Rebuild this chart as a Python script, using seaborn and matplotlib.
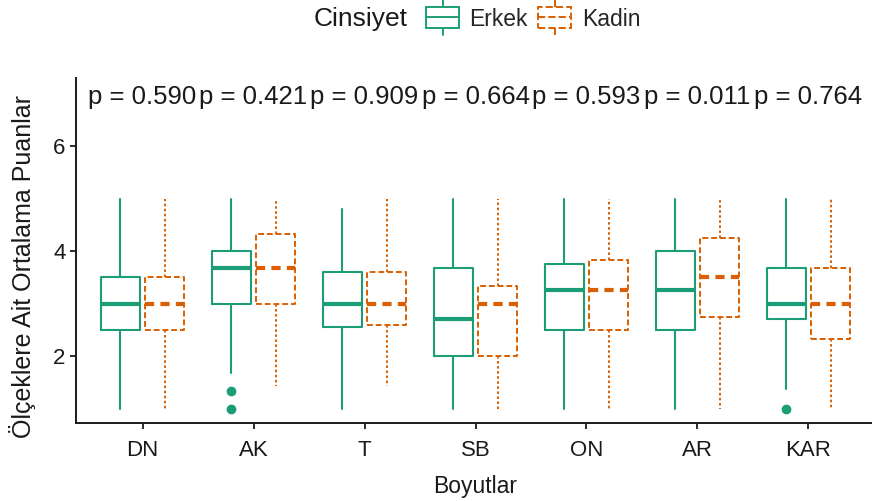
import matplotlib
matplotlib.use("Agg")
import matplotlib.pyplot as plt
import seaborn as sns
from matplotlib.legend_handler import HandlerBase
from matplotlib.lines import Line2D
from matplotlib.patches import Rectangle

boyutlar = ["DN", "AK", "T", "SB", "ON", "AR", "KAR"]
p_values = [0.590, 0.421, 0.909, 0.664, 0.593, 0.011, 0.764]

# Erkek
erkek_low = [1.0, 1.67, 1.0, 1.0, 1.0, 1.0, 1.38]
erkek_q1 = [2.5, 3.0, 2.56, 2.0, 2.5, 2.5, 2.7]
erkek_med = [3.0, 3.67, 3.0, 2.71, 3.25, 3.25, 3.0]
erkek_q3 = [3.5, 4.0, 3.6, 3.67, 3.75, 4.0, 3.67]
erkek_high = [5.0, 5.0, 4.8, 5.0, 5.0, 5.0, 5.0]
erkek_out = [[], [1.33, 1.0], [], [], [], [], [1.0]]

# Kadin
kadin_low = [1.0, 1.43, 1.43, 1.0, 1.0, 1.0, 1.0]
kadin_q1 = [2.5, 3.0, 2.6, 2.0, 2.5, 2.75, 2.33]
kadin_med = [3.0, 3.67, 3.0, 3.0, 3.25, 3.5, 3.0]
kadin_q3 = [3.5, 4.33, 3.6, 3.33, 3.83, 4.25, 3.67]
kadin_high = [5.0, 5.0, 5.0, 5.0, 5.0, 5.0, 5.0]
kadin_out = [[], [], [], [], [], [], []]

sns.set_theme(style="ticks")
plt.rcParams["font.family"] = ["Liberation Sans", "DejaVu Sans"]
renkler = sns.color_palette("Dark2", 2)
yesil, turuncu = renkler[0], renkler[1]


def make_stats(low, q1, med, q3, high, out):
    stats = []
    for i in range(len(low)):
        stats.append({"whislo": low[i], "q1": q1[i], "med": med[i],
                      "q3": q3[i], "whishi": high[i], "fliers": out[i]})
    return stats


fig = plt.figure(figsize=(8.72, 5.01), dpi=100)
ax = fig.add_axes([76 / 872, 1 - 423 / 501, 799 / 872, 345 / 501])

pos = list(range(len(boyutlar)))
ax.bxp(make_stats(erkek_low, erkek_q1, erkek_med, erkek_q3, erkek_high, erkek_out),
       positions=[p - 0.2 for p in pos], widths=0.35, showcaps=False,
       manage_ticks=False,
       boxprops=dict(color=yesil, lw=1.5),
       whiskerprops=dict(color=yesil, lw=1.5),
       medianprops=dict(color=yesil, lw=3),
       flierprops=dict(marker="o", markerfacecolor=yesil, markeredgecolor=yesil,
                       markersize=6))
ax.bxp(make_stats(kadin_low, kadin_q1, kadin_med, kadin_q3, kadin_high, kadin_out),
       positions=[p + 0.2 for p in pos], widths=0.35, showcaps=False,
       manage_ticks=False,
       boxprops=dict(color=turuncu, lw=1.4, linestyle=(0, (3, 1.5))),
       whiskerprops=dict(color=turuncu, lw=1.4, linestyle=(0, (1.3, 1.3))),
       medianprops=dict(color=turuncu, lw=3, linestyle=(0, (2.2, 1.5))),
       flierprops=dict(marker="o", markerfacecolor=turuncu, markeredgecolor=turuncu,
                       markersize=6))

for i, p in enumerate(p_values):
    ax.text(i, 6.93, f"p = {p:.3f}", ha="center", va="center", fontsize=18.5,
            color="#1a1a1a")

ax.set_xlim(-0.6, 6.6)
ax.set_ylim(0.724, 7.3)
ax.set_xticks(pos)
ax.set_xticklabels(boyutlar)
ax.set_yticks([2, 4, 6])
ax.tick_params(axis="both", labelsize=16, length=4.5, width=1.3, color="#1a1a1a",
               labelcolor="#1a1a1a")
ax.tick_params(axis="x", pad=8)
ax.tick_params(axis="y", pad=3)
for s in ["left", "bottom"]:
    ax.spines[s].set_linewidth(1.4)
    ax.spines[s].set_color("#1a1a1a")
sns.despine(ax=ax)
ax.set_xlabel("Boyutlar", fontsize=16.5, color="#1a1a1a", labelpad=10)
ax.set_ylabel("Ölçeklere Ait Ortalama Puanlar", fontsize=18, color="#1a1a1a")
ax.yaxis.set_label_coords(-40 / 799, 0.455)


class BoxKey(HandlerBase):
    def create_artists(self, legend, orig_handle, xdescent, ydescent, width,
                       height, fontsize, trans):
        c = orig_handle.get_color()
        ls = orig_handle.get_linestyle()
        x0, y0 = -xdescent, -ydescent
        mid = y0 + height / 2
        bh = height * 1.3
        box = Rectangle((x0, mid - bh / 2), width, bh, fill=False, edgecolor=c,
                        lw=1.4, linestyle=ls, transform=trans)
        med = Line2D([x0, x0 + width], [mid, mid], color=c, lw=1.4,
                     linestyle=ls, transform=trans)
        w1 = Line2D([x0 + width / 2] * 2, [mid + bh / 2, mid + bh * 0.82],
                    color=c, lw=1.4, linestyle=ls, transform=trans)
        w2 = Line2D([x0 + width / 2] * 2, [mid - bh / 2, mid - bh * 0.82],
                    color=c, lw=1.4, linestyle=ls, transform=trans)
        return [box, med, w1, w2]


handles = [Line2D([], [], color=yesil, linestyle="-"),
           Line2D([], [], color=turuncu, linestyle=(0, (2, 1.2)))]
fig.text(314 / 872, 1 - 19 / 501, "Cinsiyet", fontsize=19, color="#1a1a1a",
         ha="left", va="center")
fig.legend(handles, ["Erkek", "Kadin"], loc="center left",
           bbox_to_anchor=(426 / 872, 1 - 19 / 501), ncol=2, frameon=False,
           fontsize=16.5, handlelength=1.45, handletextpad=0.45,
           columnspacing=0.45, borderpad=0, borderaxespad=0,
           handler_map={Line2D: BoxKey()})

fig.savefig("out.png", dpi=100)
